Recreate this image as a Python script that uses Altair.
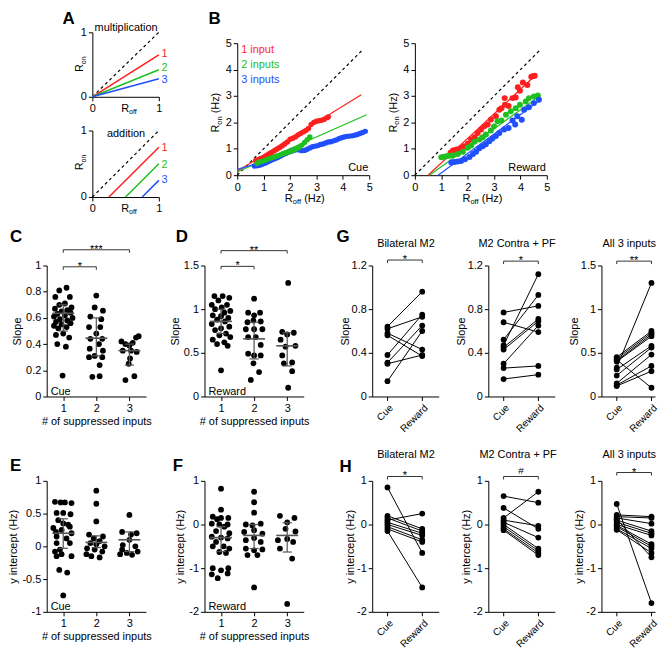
import altair as alt
import pandas as pd

FONT = "Liberation Sans"
RED = "#ff1f1f"
GREEN = "#1fbf1f"
BLUE = "#1f4fff"
GREY = "#555555"
DARK = "#333333"
ONE = pd.DataFrame({"k": [0]})
LBL = "'' + datum.value"

# ---------------- Panel A ----------------
A_SERIES = ["1", "2", "3"]
A_MULT_X = [0, 1]
A_MULT_Y = [[0, 0.65], [0, 0.42], [0, 0.28]]
A_ADD_X = [[0.25, 1.0], [0.5, 1.0], [0.75, 1.0]]
A_ADD_Y = [[0, 0.75], [0, 0.5], [0, 0.25]]
A_DIAG = [0, 1]
A_MULT_LAB_Y = [0.67, 0.45, 0.265]
A_ADD_LAB_Y = [0.74, 0.485, 0.26]
A_LAB_X = [1.04, 1.04, 1.04]

# ---------------- Panel B ----------------
B_DIAG = [0, 4.75]
CUE_RED_X = [0.70, 0.80, 0.90, 1.00, 1.10, 1.20, 1.30, 1.40, 1.50, 1.60, 1.70, 1.80, 1.90, 2.00, 2.10,
             2.20, 2.30, 2.40, 2.50, 2.60, 2.70, 2.80, 2.90, 3.00, 3.10, 3.20, 3.30, 3.40, 3.45]
CUE_RED_Y = [0.55, 0.60, 0.63, 0.67, 0.74, 0.80, 0.86, 0.92, 0.98, 1.04, 1.11, 1.18, 1.26, 1.36, 1.40,
             1.45, 1.52, 1.58, 1.64, 1.69, 1.77, 1.92, 2.00, 2.04, 2.06, 2.08, 2.12, 2.18, 2.21]
CUE_GREEN_X = [0.75, 0.85, 0.95, 1.05, 1.15, 1.25, 1.35, 1.45, 1.55, 1.65, 1.75, 1.85, 1.95, 2.05,
               2.15, 2.25, 2.35, 2.45, 2.55, 2.65, 2.75]
CUE_GREEN_Y = [0.45, 0.50, 0.53, 0.56, 0.60, 0.64, 0.67, 0.71, 0.74, 0.78, 0.82, 0.85, 0.88, 0.92,
               0.96, 1.00, 1.06, 1.14, 1.24, 1.34, 1.45]
CUE_BLUE_X = [0.65, 0.75, 0.85, 0.95, 1.05, 1.15, 1.25, 1.35, 1.45, 1.55, 1.65, 1.75, 1.85, 1.95,
              2.05, 2.15, 2.25, 2.35, 2.45, 2.55, 2.65, 2.75, 2.85, 2.95, 3.05, 3.15, 3.25, 3.35,
              3.45, 3.55, 3.65, 3.75, 3.85, 3.95, 4.05, 4.15, 4.25, 4.35, 4.45, 4.55, 4.65, 4.75, 4.85]
CUE_BLUE_Y = [0.35, 0.36, 0.38, 0.41, 0.45, 0.50, 0.55, 0.59, 0.63, 0.68, 0.73, 0.78, 0.83, 0.88,
              0.93, 0.96, 0.97, 0.95, 0.93, 0.94, 0.98, 1.03, 1.08, 1.10, 1.12, 1.16, 1.18, 1.22,
              1.26, 1.27, 1.30, 1.33, 1.38, 1.42, 1.45, 1.47, 1.48, 1.49, 1.51, 1.54, 1.58, 1.62, 1.66]
REW_RED_X = [1.35, 1.44, 1.55, 1.63, 1.75, 1.88, 2.01, 2.13, 2.26, 2.38, 2.51, 2.63, 2.76, 2.88, 3.07,
             3.20, 3.28, 3.40, 3.41, 3.55, 3.70, 3.82, 3.90, 3.98, 4.09, 4.26, 4.41, 4.49, 4.54]
REW_RED_Y = [0.85, 0.94, 0.96, 0.98, 1.03, 1.10, 1.19, 1.35, 1.44, 1.60, 1.73, 1.85, 1.92, 2.11, 2.23,
             2.48, 2.54, 2.92, 2.67, 2.62, 2.92, 2.94, 3.33, 3.20, 3.51, 3.42, 3.73, 3.76, 3.77]
REW_GREEN_X = [1.00, 1.10, 1.20, 1.30, 1.44, 1.63, 1.82, 2.00, 2.13, 2.26, 2.44, 2.57, 2.69, 2.88,
               3.00, 3.13, 3.28, 3.45, 3.63, 3.82, 3.98, 4.20, 4.32, 4.51, 4.66]
REW_GREEN_Y = [0.68, 0.70, 0.72, 0.74, 0.76, 0.80, 0.89, 1.04, 1.12, 1.27, 1.35, 1.44, 1.54, 1.69,
               1.85, 2.04, 2.07, 2.29, 2.42, 2.54, 2.67, 2.79, 2.92, 2.98, 3.02]
REW_BLUE_X = [1.38, 1.50, 1.62, 1.75, 1.90, 2.07, 2.20, 2.32, 2.44, 2.57, 2.69, 2.82, 2.94, 3.07,
              3.20, 3.38, 3.55, 3.70, 3.80, 3.88, 4.05, 4.14, 4.32, 4.51, 4.70]
REW_BLUE_Y = [0.48, 0.50, 0.52, 0.54, 0.60, 0.69, 0.80, 0.89, 1.02, 1.10, 1.17, 1.29, 1.39, 1.48,
              1.60, 1.73, 1.79, 2.07, 1.92, 2.23, 2.10, 2.48, 2.57, 2.73, 2.86]
CUE_FIT_X = {"1": [0, 4.7], "2": [0, 4.9], "3": [0, 4.85]}
CUE_FIT_Y = {"1": [0.15, 3.05], "2": [0.12, 2.29], "3": [0.22, 1.67]}
REW_FIT_X = {"1": [0.5, 4.45], "2": [0.55, 4.7], "3": [0.88, 4.76]}
REW_FIT_Y = {"1": [0, 3.67], "2": [0, 2.98], "3": [0, 2.86]}

# ---------------- Panels C-F (value, jitter offset) ----------------
C_G1_V = [0.83, 0.81, 0.76, 0.76, 0.71, 0.70, 0.68, 0.67, 0.66, 0.65, 0.64, 0.63, 0.62, 0.61, 0.60,
          0.59, 0.58, 0.57, 0.56, 0.55, 0.54, 0.53, 0.52, 0.48, 0.47, 0.45, 0.40, 0.38, 0.16]
C_G1_O = [0.10, -0.12, -0.24, 0.20, 0.05, -0.12, 0.25, -0.25, 0.12, -0.05, 0.22, -0.18, 0.05, -0.28, 0.28,
          -0.10, 0.12, -0.22, 0.22, -0.05, -0.28, 0.10, -0.15, 0.00, -0.22, 0.18, -0.18, 0.08, -0.02]
C_G2_V = [0.77, 0.68, 0.655, 0.61, 0.59, 0.53, 0.53, 0.48, 0.44, 0.44, 0.40, 0.365, 0.35, 0.31, 0.30,
          0.30, 0.24, 0.15, 0.155]
C_G2_O = [0.00, -0.05, 0.20, -0.18, 0.15, -0.22, 0.12, 0.00, -0.18, 0.18, 0.08, -0.20, 0.20, -0.05, -0.22,
          0.18, 0.10, -0.12, 0.10]
C_G3_V = [0.46, 0.45, 0.42, 0.41, 0.40, 0.39, 0.35, 0.35, 0.34, 0.29, 0.25, 0.155, 0.125]
C_G3_O = [0.28, 0.20, -0.24, 0.10, -0.12, 0.00, -0.20, 0.05, 0.22, 0.02, -0.02, 0.15, -0.12]
C_MEAN = [0.635, 0.445, 0.35]
C_LO = [0.50, 0.31, 0.24]
C_HI = [0.70, 0.60, 0.40]

D_G1_V = [1.15, 1.15, 1.13, 1.10, 1.05, 1.05, 1.02, 1.00, 0.98, 0.96, 0.93, 0.92, 0.90, 0.88, 0.86,
          0.83, 0.80, 0.78, 0.76, 0.72, 0.70, 0.68, 0.65, 0.62, 0.60, 0.58, 0.30]
D_G1_O = [-0.20, 0.05, 0.25, -0.08, -0.28, 0.18, 0.02, -0.18, 0.28, 0.10, -0.25, 0.00, 0.22, -0.12, 0.12,
          -0.28, 0.25, 0.00, -0.18, 0.15, -0.05, 0.28, -0.25, 0.10, -0.12, 0.20, 0.00]
D_G2_V = [1.12, 0.96, 0.93, 0.96, 0.85, 0.87, 0.86, 0.77, 0.77, 0.77, 0.68, 0.68, 0.59, 0.49, 0.47,
          0.47, 0.38, 0.28, 0.19]
D_G2_O = [0.00, -0.18, 0.00, 0.18, -0.20, -0.02, 0.20, -0.25, 0.00, 0.25, -0.18, 0.05, 0.20, -0.18, 0.00,
          0.20, -0.02, 0.15, -0.10]
D_G3_V = [1.30, 0.74, 0.73, 0.71, 0.65, 0.58, 0.57, 0.47, 0.39, 0.38, 0.29, 0.10]
D_G3_O = [0.03, -0.15, 0.20, 0.00, -0.20, 0.25, -0.05, -0.15, 0.15, -0.10, 0.15, 0.03]
D_MEAN = [0.86, 0.66, 0.58]
D_LO = [0.72, 0.43, 0.35]
D_HI = [1.00, 0.85, 0.73]

E_G1_V = [0.68, 0.67, 0.67, 0.66, 0.51, 0.51, 0.49, 0.40, 0.35, 0.33, 0.30, 0.28, 0.25, 0.22, 0.20,
          0.15, 0.12, 0.05, 0.05, -0.05, -0.08, -0.12, -0.15, -0.15, -0.36, -0.40, -0.75]
E_G1_O = [-0.25, -0.08, 0.05, 0.25, -0.20, 0.00, 0.22, -0.15, 0.00, 0.15, 0.20, -0.30, -0.05, -0.22, 0.25,
          -0.20, 0.10, -0.20, 0.20, -0.10, -0.25, -0.05, 0.25, -0.20, -0.12, 0.12, 0.00]
E_G2_V = [0.85, 0.65, 0.38, 0.18, 0.15, 0.12, 0.08, 0.05, 0.03, 0.00, -0.03, -0.05, -0.08, -0.12, -0.15, -0.17]
E_G2_O = [0.00, 0.00, 0.00, -0.22, 0.20, -0.08, 0.10, -0.18, 0.00, 0.25, -0.28, -0.05, 0.18, -0.30, -0.15, 0.10]
E_G3_V = [0.48, 0.22, 0.20, 0.18, 0.10, 0.02, 0.00, -0.05, -0.08, -0.10, -0.13, -0.12]
E_G3_O = [0.00, -0.22, 0.22, 0.05, 0.00, -0.20, 0.18, -0.22, 0.25, -0.08, 0.08, -0.28]
E_MEAN = [0.20, 0.06, 0.10]
E_LO = [-0.03, -0.02, -0.08]
E_HI = [0.42, 0.16, 0.22]

F_G1_V = [0.82, 0.34, 0.18, 0.15, 0.15, 0.12, 0.02, 0.00, 0.00, -0.05, -0.15, -0.20, -0.28, -0.30, -0.32,
          -0.40, -0.50, -0.50, -0.55, -0.63, -0.65, -1.00, -1.00, -1.05, -1.12, -1.14, -1.23]
F_G1_O = [0.00, 0.00, -0.25, 0.00, 0.22, -0.12, -0.28, -0.05, 0.20, 0.10, -0.15, 0.25, -0.28, 0.00, 0.20,
          -0.15, -0.25, 0.08, 0.25, -0.05, 0.15, -0.25, 0.22, 0.00, 0.20, -0.28, -0.10]
F_G2_V = [0.75, 0.51, 0.27, 0.02, 0.00, -0.02, -0.13, -0.17, -0.21, -0.31, -0.36, -0.40, -0.55, -0.57,
          -0.59, -0.70, -0.70, -1.44]
F_G2_O = [0.00, 0.00, 0.00, 0.20, -0.25, -0.05, 0.00, -0.30, 0.25, 0.00, -0.25, 0.20, -0.25, 0.25,
          0.00, -0.20, 0.10, 0.00]
F_G3_V = [0.20, 0.15, 0.05, -0.10, -0.16, -0.33, -0.36, -0.40, -0.55, -0.78, -1.82]
F_G3_O = [-0.22, 0.22, 0.00, -0.05, 0.25, 0.00, -0.28, 0.18, -0.22, 0.15, 0.00]
F_MEAN = [-0.30, -0.25, -0.25]
F_LO = [-0.62, -0.55, -0.63]
F_HI = [-0.05, 0.00, 0.04]

# ---------------- Panels G-H (paired Cue -> Reward) ----------------
G1_CUE = [0.64, 0.62, 0.58, 0.56, 0.38, 0.31, 0.30, 0.14]
G1_REW = [0.96, 0.73, 0.43, 0.37, 0.75, 0.65, 0.38, 0.60]
G2_CUE = [0.77, 0.68, 0.47, 0.52, 0.45, 0.43, 0.30, 0.26, 0.16]
G2_REW = [0.83, 0.59, 1.12, 0.93, 0.71, 0.69, 0.65, 0.28, 0.20]
G3_CUE = [0.33, 0.45, 0.43, 0.41, 0.40, 0.31, 0.24, 0.15, 0.13, 0.12, 0.42]
G3_REW = [1.30, 0.75, 0.73, 0.71, 0.69, 0.58, 0.56, 0.48, 0.35, 0.29, 0.10]
H1_CUE = [0.85, 0.10, 0.20, 0.15, 0.05, 0.00, -0.05, -0.10, -0.15]
H1_REW = [-0.65, 0.25, -0.10, -0.15, -0.20, -0.25, -0.35, -0.40, -1.44]
H2_CUE = [0.65, 0.15, 0.38, 0.10, 0.05, 0.00, -0.05, -0.10, -0.13]
H2_REW = [0.50, 0.75, -0.10, -0.03, -0.30, -0.55, -0.60, -0.65, -0.70]
H3_CUE = [0.47, 0.22, 0.18, 0.15, 0.10, 0.05, 0.00, -0.02, -0.05, -0.10, -0.12, 0.12]
H3_REW = [-1.80, 0.18, 0.15, 0.02, -0.15, -0.20, -0.25, -0.45, -0.50, -0.55, -0.65, -0.75]


# ---------------- helpers ----------------
def frame(x0, x1, y0, y1):
    # invisible box that fixes the space a panel takes in the concat layout
    return alt.Chart(ONE).mark_rect(opacity=0).encode(
        x=alt.value(x0), x2=alt.value(x1), y=alt.value(y0), y2=alt.value(y1))


def txt(s, x, y, size=11, angle=0, align="left", baseline="alphabetic", color="black", weight="normal"):
    return alt.Chart(ONE).mark_text(text=s, font=FONT, fontSize=size, angle=angle, align=align,
                                    baseline=baseline, color=color, fontWeight=weight).encode(
        x=alt.value(x), y=alt.value(y))


def spacer(w, h, fr, extra=()):
    return alt.layer(frame(*fr), *extra).properties(width=w, height=h)


def axis(values, title=None, tp=3, **kw):
    opts = dict(values=values, labelExpr=LBL, labelFlush=False, labelOverlap=False, titlePadding=tp)
    opts.update(kw)
    return alt.Axis(title=title, **opts)


def X(field, dom, ax):
    return alt.X(field, type="quantitative", scale=alt.Scale(domain=dom, nice=False, zero=False), axis=ax)


def Y(field, dom, ax):
    return alt.Y(field, type="quantitative", scale=alt.Scale(domain=dom, nice=False, zero=False), axis=ax)


COLOR = alt.Color("s:N", scale=alt.Scale(domain=["1", "2", "3"], range=[RED, GREEN, BLUE]), legend=None)


def bracket_layers(br, xd, xa, yd, ya, tick_len):
    x1, x2, yb, lab = (list(t) for t in zip(*br))
    b = alt.Chart(pd.DataFrame({"x1": x1, "x2": x2, "y": yb, "lab": lab})).transform_calculate(
        yt=f"datum.y - {tick_len}", xm="(datum.x1 + datum.x2) / 2")
    return [
        b.mark_rule(color=DARK, strokeWidth=1).encode(x=X("x1", xd, xa), x2="x2", y=Y("y", yd, ya)),
        b.mark_rule(color=DARK, strokeWidth=1).encode(x=X("x1", xd, xa), y=Y("yt", yd, ya), y2="y"),
        b.mark_rule(color=DARK, strokeWidth=1).encode(x=X("x2", xd, xa), y=Y("yt", yd, ya), y2="y"),
        b.transform_filter("datum.lab != '#'").mark_text(font=FONT, fontSize=11, baseline="alphabetic", dy=3)
         .encode(x=X("xm", xd, xa), y=Y("y", yd, ya), text="lab:N"),
        b.transform_filter("datum.lab == '#'").mark_text(font=FONT, fontSize=10, baseline="alphabetic", dy=-2)
         .encode(x=X("xm", xd, xa), y=Y("y", yd, ya), text="lab:N"),
    ]


def panel_a(kind):
    W = 67
    xd = yd = [0, 1]
    xa = axis([0, 1])
    ya = axis([0, 1])
    if kind == "mult":
        H, xs, ys, laby = 65, [A_MULT_X] * 3, A_MULT_Y, A_MULT_LAB_Y
        fr, head, hy, rx = (-32, 106, -22, 81), "multiplication", -1, 29
    else:
        H, xs, ys, laby = 67, A_ADD_X, A_ADD_Y, A_ADD_LAB_Y
        fr, head, hy, rx = (-32, 106, -15, 87), "addition", 7, 29
    rows = [{"s": s, "x": x, "y": y} for s, xx, yy in zip(A_SERIES, xs, ys) for x, y in zip(xx, yy)]
    layers = [
        frame(*fr),
        alt.Chart(pd.DataFrame({"x": A_DIAG, "y": A_DIAG})).mark_line(
            color="black", strokeDash=[3, 3], strokeWidth=1.2).encode(x=X("x", xd, xa), y=Y("y", yd, ya)),
        alt.Chart(pd.DataFrame(rows)).mark_line(strokeWidth=1.5).encode(
            x=X("x", xd, xa), y=Y("y", yd, ya), color=COLOR),
        alt.Chart(pd.DataFrame({"s": A_SERIES, "x": A_LAB_X, "y": laby})).mark_text(
            font=FONT, fontSize=11, align="left", baseline="middle").encode(
            x=X("x", xd, xa), y=Y("y", yd, ya), text="s:N", color=COLOR),
        txt(head, 34, hy, align="center"),
        txt("R", -9, 40, angle=270),
        txt("on", -6.5, 32.1, size=7, angle=270),
        txt("R", rx, H + 15),
        txt("off", rx + 8, H + 17.5, size=7),
    ]
    if kind == "mult":
        layers.append(txt("A", -30, -8, size=17, weight="bold"))
    return alt.layer(*layers).properties(width=W, height=H)


def panel_b(kind):
    W = H = 133
    xd = yd = [0, 5]
    xa = axis([0, 1, 2, 3, 4, 5])
    ya = axis([0, 1, 2, 3, 4, 5])
    if kind == "cue":
        series = [("3", CUE_BLUE_X, CUE_BLUE_Y), ("1", CUE_RED_X, CUE_RED_Y), ("2", CUE_GREEN_X, CUE_GREEN_Y)]
        fx, fy, corner, fr, size = CUE_FIT_X, CUE_FIT_Y, "Cue", (-40, 148, -8, 172), 30
    else:
        series = [("1", REW_RED_X, REW_RED_Y), ("2", REW_GREEN_X, REW_GREEN_Y), ("3", REW_BLUE_X, REW_BLUE_Y)]
        fx, fy, corner, fr, size = REW_FIT_X, REW_FIT_Y, "Reward", (-31, 150, -8, 172), 36
    pts = pd.DataFrame([{"s": s, "x": x, "y": y} for s, xs, ys in series for x, y in zip(xs, ys)])
    fits = pd.DataFrame([{"s": s, "x": x, "y": y} for s in ["1", "2", "3"] for x, y in zip(fx[s], fy[s])])
    layers = [
        frame(*fr),
        alt.Chart(pd.DataFrame({"x": B_DIAG, "y": B_DIAG})).mark_line(
            color="black", strokeDash=[3, 3], strokeWidth=1.2).encode(x=X("x", xd, xa), y=Y("y", yd, ya)),
        alt.Chart(fits).mark_line(strokeWidth=1.2).encode(x=X("x", xd, xa), y=Y("y", yd, ya), color=COLOR),
        alt.Chart(pts).mark_circle(size=size, opacity=1).encode(x=X("x", xd, xa), y=Y("y", yd, ya), color=COLOR),
        txt(corner, 132, 129, align="right"),
        txt("R", -18, 90, angle=270),
        txt("on", -15.5, 82.1, size=7.5, angle=270),
        txt("(Hz)", -18, 70.7, angle=270),
        txt("R", 48, 160),
        txt("off", 56, 162.5, size=7.5),
        txt("(Hz)", 67.4, 160),
    ]
    if kind == "cue":
        layers += [txt("1 input", 4, 10, color=RED), txt("2 inputs", 4, 25, color=GREEN),
                   txt("3 inputs", 4, 40, color=BLUE)]
    return alt.layer(*layers).properties(width=W, height=H)


def strip_panel(groups, means, los, his, ydom, yvals, ytitle, brackets, cond, let, lx, ly, fr, tick_len):
    W, H = 100, 132
    xd = [0.5, 3.5]
    xa = axis([1, 2, 3], "# of suppressed inputs", tp=2)
    ya = axis(yvals, ytitle, tp=3)
    pts = pd.DataFrame([{"x": g + o, "y": v} for g, (vals, offs) in enumerate(groups, 1)
                        for v, o in zip(vals, offs)])
    st = alt.Chart(pd.DataFrame({"g": [1, 2, 3], "m": means, "lo": los, "hi": his})).transform_calculate(
        xl="datum.g - 0.33", xr="datum.g + 0.33", cl="datum.g - 0.14", cr="datum.g + 0.14")
    layers = [
        frame(*fr),
        alt.Chart(pts).mark_circle(size=34, color="black", opacity=1).encode(x=X("x", xd, xa), y=Y("y", ydom, ya)),
        st.mark_rule(color=GREY, strokeWidth=1.2).encode(x=X("g", xd, xa), y=Y("lo", ydom, ya), y2="hi"),
        st.mark_rule(color=GREY, strokeWidth=1.6).encode(x=X("xl", xd, xa), x2="xr", y=Y("m", ydom, ya)),
        st.mark_rule(color=GREY, strokeWidth=1.2).encode(x=X("cl", xd, xa), x2="cr", y=Y("lo", ydom, ya)),
        st.mark_rule(color=GREY, strokeWidth=1.2).encode(x=X("cl", xd, xa), x2="cr", y=Y("hi", ydom, ya)),
    ]
    if brackets:
        layers += bracket_layers(brackets, xd, xa, ydom, ya, tick_len)
    layers += [txt(cond, 4, H - 2), txt(let, lx, ly, size=17, weight="bold")]
    return alt.layer(*layers).properties(width=W, height=H)


def paired_panel(cue, rew, ydom, yvals, ytitle, bracket, tick_len, title, tx, ty, fr, W, let=None, lpos=None):
    H = 132
    xd = [-0.44, -0.44 + W / 35.0]
    xa = alt.Axis(values=[0, 1], title=None, labelExpr="datum.value == 0 ? 'Cue' : 'Reward'",
                  labelAngle=315, labelAlign="right", labelBaseline="top", labelFontSize=10,
                  labelPadding=2, labelFlush=False, labelOverlap=False)
    ya = axis(yvals, ytitle, tp=1)
    rows = []
    for i, (c, r) in enumerate(zip(cue, rew)):
        rows.append({"id": i, "c": 0, "v": c})
        rows.append({"id": i, "c": 1, "v": r})
    df = pd.DataFrame(rows)
    layers = [
        frame(*fr),
        alt.Chart(df).mark_line(color="black", strokeWidth=1).encode(
            x=X("c", xd, xa), y=Y("v", ydom, ya), detail="id:N"),
        alt.Chart(df).mark_circle(size=34, color="black", opacity=1).encode(
            x=X("c", xd, xa), y=Y("v", ydom, ya)),
    ]
    layers += bracket_layers([(0, 1, bracket[0], bracket[1])], xd, xa, ydom, ya, tick_len)
    layers.append(txt(title, tx, ty, align="center"))
    if let:
        layers.append(txt(let, lpos[0], lpos[1], size=17, weight="bold"))
    return alt.layer(*layers).properties(width=W, height=H)


# ---------------- assemble ----------------
R2 = (-49, 170)
R3 = (-47, 170)

pC = strip_panel([(C_G1_V, C_G1_O), (C_G2_V, C_G2_O), (C_G3_V, C_G3_O)], C_MEAN, C_LO, C_HI,
                 [0, 1], [0, 0.2, 0.4, 0.6, 0.8, 1], "Slope",
                 [(1, 2, 0.99, "*"), (1, 3, 1.12, "***")], "Cue", "C", -37, -24, (-38, 122) + R2, 0.023)
pD = strip_panel([(D_G1_V, D_G1_O), (D_G2_V, D_G2_O), (D_G3_V, D_G3_O)], D_MEAN, D_LO, D_HI,
                 [0, 1.5], [0, 0.5, 1, 1.5], "Slope",
                 [(1, 2, 1.49, "*"), (1, 3, 1.67, "**")], "Reward", "D", -29, -24, (-37, 130) + R2, 0.034)
pE = strip_panel([(E_G1_V, E_G1_O), (E_G2_V, E_G2_O), (E_G3_V, E_G3_O)], E_MEAN, E_LO, E_HI,
                 [-1, 1], [-1, -0.5, 0, 0.5, 1], "y intercept (Hz)",
                 [], "Cue", "E", -37, -10, (-38, 122) + R3, 0.045)
pF = strip_panel([(F_G1_V, F_G1_O), (F_G2_V, F_G2_O), (F_G3_V, F_G3_O)], F_MEAN, F_LO, F_HI,
                 [-2, 1], [-2, -1, 0, 1], "y intercept (Hz)",
                 [], "Reward", "F", -32, -10, (-37, 130) + R3, 0.068)

pG1 = paired_panel(G1_CUE, G1_REW, [0, 1.2], [0, 0.4, 0.8, 1.2], "Slope", (1.25, "*"), 0.027,
                   "Bilateral M2", 34, -19, (-39, 80) + R2, 67, "G", (-36, -24))
pG2 = paired_panel(G2_CUE, G2_REW, [0, 1.2], [0, 0.4, 0.8, 1.2], "Slope", (1.24, "*"), 0.027,
                   "M2 Contra + PF", 29, -19, (-37, 77) + R2, 67)
pG3 = paired_panel(G3_CUE, G3_REW, [0, 1.5], [0, 0.5, 1, 1.5], "Slope", (1.55, "**"), 0.034,
                   "All 3 inputs", 28, -19, (-37, 54) + R2, 54)
pH1 = paired_panel(H1_CUE, H1_REW, [-2, 1], [-2, -1, 0, 1], "y intercept (Hz)", (1.10, "*"), 0.068,
                   "Bilateral M2", 34, -23, (-39, 80) + R3, 67, "H", (-33, -9))
pH2 = paired_panel(H2_CUE, H2_REW, [-2, 1], [-2, -1, 0, 1], "y intercept (Hz)", (1.10, "#"), 0.068,
                   "M2 Contra + PF", 30, -23, (-37, 77) + R3, 67)
pH3 = paired_panel(H3_CUE, H3_REW, [-2, 1], [-2, -1, 0, 1], "y intercept (Hz)", (1.19, "*"), 0.068,
                   "All 3 inputs", 28, -23, (-37, 54) + R3, 54)

# row 1: a left spacer puts the row origin at the same x as panels C and E
lead = spacer(14, 1, (-38, 14, 0, 1))
colA = alt.vconcat(panel_a("mult"), panel_a("add"), spacing=0)
colB1 = alt.vconcat(spacer(133, 3, (0, 133, 0, 3), [txt("B", -29, -8, size=17, weight="bold")]),
                    panel_b("cue"), spacing=0)
colB2 = alt.vconcat(spacer(133, 3, (0, 133, 0, 3)), panel_b("reward"), spacing=0)
row1 = alt.hconcat(lead, colA, colB1, colB2, spacing=0)
row2 = alt.hconcat(pC, pD, pG1, pG2, pG3, spacing=0)
row3 = alt.hconcat(pE, pF, pH1, pH2, pH3, spacing=0)

chart = alt.vconcat(row1, row2, row3, spacing=0, padding=0).configure_axis(
    labelFont=FONT, titleFont=FONT, labelFontSize=11, titleFontSize=11, titleFontWeight="normal",
    labelColor="black", titleColor="black", domainColor="black", tickColor="black",
    tickSize=4, labelPadding=2, grid=False, domainWidth=1, tickWidth=1,
).configure_view(strokeWidth=0)

chart.save("out.html", embed_options={"renderer": "svg", "actions": False})
